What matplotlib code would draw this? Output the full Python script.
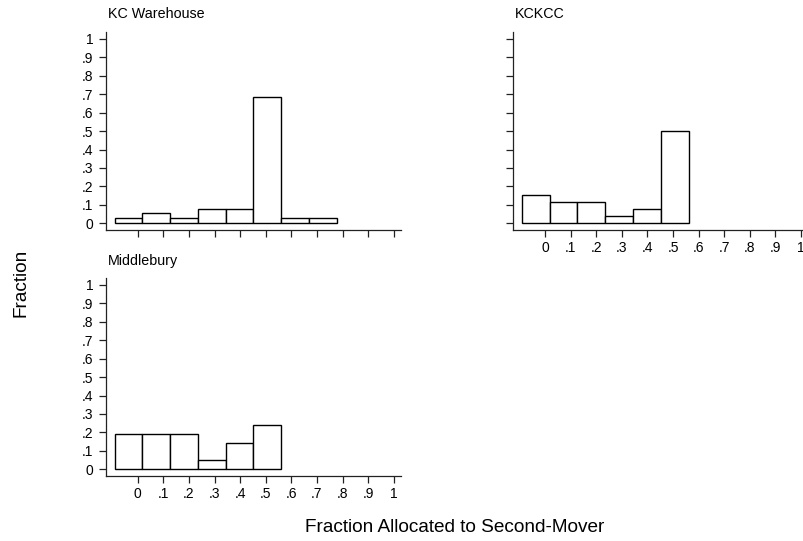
import numpy as np
import matplotlib
matplotlib.use("Agg")
import matplotlib.pyplot as plt

plt.rcParams["font.family"] = ["Liberation Sans", "DejaVu Sans"]

# histogram fractions per bin
kc_warehouse = [0.026, 0.053, 0.026, 0.079, 0.079, 0.684, 0.026, 0.026]
kckcc = [0.154, 0.115, 0.115, 0.038, 0.077, 0.5]
middlebury = [0.19, 0.19, 0.19, 0.048, 0.143, 0.238]

bin_start = -0.0905
bin_width = 0.1085

tick_vals = [0, 0.1, 0.2, 0.3, 0.4, 0.5, 0.6, 0.7, 0.8, 0.9, 1]
tick_labels = ["0", ".1", ".2", ".3", ".4", ".5", ".6", ".7", ".8", ".9", "1"]

W, H = 804, 541
fig = plt.figure(figsize=(W / 100, H / 100), dpi=100)


def px_axes(left, top, right, bottom):
    return fig.add_axes([left / W, 1 - bottom / H, (right - left) / W, (bottom - top) / H])


def draw_hist(ax, values, show_x, show_y):
    lefts = bin_start + bin_width * np.arange(len(values))
    ax.bar(lefts, values, width=bin_width, align="edge", color="white",
           edgecolor="black", linewidth=1.0)
    ax.set_xlim(-0.125, 1.027)
    ax.set_ylim(-0.037, 1.038)
    for s in ["top", "right"]:
        ax.spines[s].set_visible(False)
    for s in ["left", "bottom"]:
        ax.spines[s].set_linewidth(0.9)
        ax.spines[s].set_color("#222222")
    ax.set_xticks(tick_vals)
    ax.set_yticks(tick_vals)
    ax.set_xticklabels(tick_labels if show_x else [])
    ax.set_yticklabels(tick_labels if show_y else [])
    ax.tick_params(direction="out", length=5.2, width=0.9, labelsize=10,
                   color="#222222")
    ax.tick_params(axis="x", pad=3)
    ax.tick_params(axis="y", pad=3.5)
    ax.patch.set_visible(False)


ax1 = px_axes(105.7, 32, 400.7, 230)
draw_hist(ax1, kc_warehouse, False, True)
ax2 = px_axes(513, 32, 808, 230)
draw_hist(ax2, kckcc, True, False)
ax3 = px_axes(105.7, 278, 400.7, 476)
draw_hist(ax3, middlebury, True, True)

fig.text(107.7 / W, 1 - 18.3 / H, "KC Warehouse", fontsize=10.3, va="baseline")
fig.text(514.7 / W, 1 - 18.3 / H, "KCKCC", fontsize=10.3, va="baseline")
fig.text(108 / W, 1 - 265 / H, "Middlebury", fontsize=10.3, va="baseline")

fig.text(305 / W, 1 - 532 / H, "Fraction Allocated to Second-Mover",
         fontsize=13.7, va="baseline", ha="left")
fig.text(21 / W, 1 - 283 / H, "Fraction", fontsize=13.7, rotation=90,
         ha="center", va="center")

fig.savefig("out.png", dpi=100)
